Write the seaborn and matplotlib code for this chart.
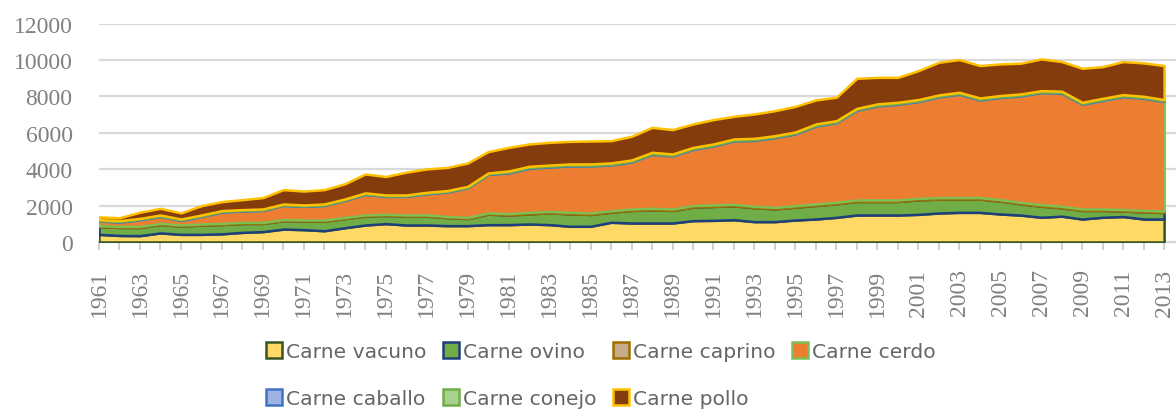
import matplotlib
matplotlib.use("Agg")
import matplotlib.pyplot as plt
import seaborn as sns
import numpy as np
import pandas as pd
from matplotlib.patches import Patch
from matplotlib.ticker import MultipleLocator

years = list(range(1961, 2014))

carne_vacuno = [420, 360, 350, 500, 420, 420, 450, 530, 570, 710,
                680, 620, 785, 935, 1010, 935, 935, 900, 900, 955,
                955, 990, 955, 865, 865, 1085, 1045, 1045, 1045, 1175,
                1190, 1225, 1120, 1120, 1210, 1265, 1355, 1485, 1485, 1485,
                1520, 1595, 1630, 1630, 1540, 1480, 1360, 1420, 1265, 1360,
                1400, 1265, 1265]
carne_ovino = [420, 440, 450, 465, 455, 510, 515, 490, 450, 460,
               470, 530, 505, 490, 450, 490, 490, 440, 390, 580,
               525, 560, 645, 685, 650, 555, 690, 725, 690, 745,
               765, 765, 760, 705, 705, 745, 745, 745, 745, 745,
               800, 765, 730, 730, 710, 620, 610, 460, 470, 375,
               300, 395, 355]
carne_caprino = [60] * 20 + [80] * 33
carne_cerdo = [250, 235, 360, 380, 250, 415, 620, 620, 655, 780,
               745, 800, 935, 1135, 985, 1020, 1165, 1345, 1630, 2120,
               2235, 2420, 2440, 2550, 2585, 2515, 2585, 2970, 2915, 3090,
               3245, 3485, 3630, 3830, 3945, 4290, 4380, 4930, 5170, 5260,
               5320, 5535, 5680, 5370, 5610, 5850, 6160, 6220, 5755, 5975,
               6210, 6160, 6020]
carne_caballo = [30] * 20 + [40] * 33
carne_conejo = [50] * 20 + [70] * 33
carne_pollo = [150, 160, 340, 365, 335, 515, 495, 550, 625, 790,
               765, 790, 835, 1040, 1015, 1255, 1285, 1275, 1285, 1175,
               1295, 1230, 1250, 1240, 1260, 1225, 1300, 1370, 1340, 1290,
               1340, 1245, 1340, 1375, 1410, 1320, 1290, 1650, 1460, 1370,
               1590, 1795, 1800, 1780, 1740, 1690, 1745, 1630, 1870, 1740,
               1820, 1835, 1870]

series_names = ["Carne vacuno", "Carne ovino", "Carne caprino", "Carne cerdo",
                "Carne caballo", "Carne conejo", "Carne pollo"]
series_values = [carne_vacuno, carne_ovino, carne_caprino, carne_cerdo,
                 carne_caballo, carne_conejo, carne_pollo]
y_ticks = [0, 2000, 4000, 6000, 8000, 10000, 12000]

fills = ["#FFD966", "#70AD47", "#C4AC8A", "#ED7D31", "#9DB3E0", "#A9D18E", "#843C0C"]
edges = ["#375623", "#1F3F7A", "#9C6F00", "#7DBE55", "#4472C4", "#70AD47", "#FFC000"]

df = pd.DataFrame({"year": years})
for n, v in zip(series_names, series_values):
    df[n] = v

sns.set_theme(style="white")
plt.rcParams["font.family"] = ["Liberation Serif", "DejaVu Serif"]

fig = plt.figure(figsize=(11.76, 4.10), dpi=100)
ax = fig.add_axes([99 / 1176, 1 - 243 / 410, 1 - 99 / 1176, (243 - 24.7) / 410])

ax.set_axisbelow(True)
ax.yaxis.grid(True, color="#D9D9D9", linewidth=1.6)
polys = ax.stackplot(df["year"], *[df[n] for n in series_names], colors=fills)
for p, ec in zip(polys, edges):
    p.set_edgecolor(ec)
    p.set_linewidth(1.8)
    p.set_joinstyle("round")

ax.set_xlim(1961, 2013.58)
ax.set_ylim(0, 12000)
ax.set_yticks(y_ticks)
ax.set_yticklabels([str(t) for t in y_ticks])
ax.xaxis.set_minor_locator(MultipleLocator(1))
ax.set_xticks([y for y in years if (y - 1961) % 2 == 0])
ax.set_xticklabels([str(y) for y in years if (y - 1961) % 2 == 0], rotation=90)

for s in ["top", "right", "left"]:
    ax.spines[s].set_visible(False)
ax.spines["bottom"].set_color("#D0D0D0")
ax.spines["bottom"].set_linewidth(1.5)
ax.spines["bottom"].set_zorder(0.5)

ax.tick_params(axis="y", length=0, pad=19, labelsize=17, labelcolor="#808080")
ax.tick_params(axis="x", which="both", direction="out", length=6, width=1.2,
               color="#C8C8C8", bottom=True, labelsize=17, labelcolor="#808080", pad=13)
ax.tick_params(axis="x", which="minor", labelbottom=False)

handles = [Patch(facecolor=f, edgecolor=e, linewidth=1.8, label=n)
           for f, e, n in zip(fills, edges, series_names)]
order = [0, 4, 1, 5, 2, 6, 3]
leg = fig.legend([handles[i] for i in order], [series_names[i] for i in order],
                 ncol=4, loc="center", bbox_to_anchor=(601 / 1176, 1 - 376 / 410),
                 frameon=False, handlelength=0.8, handleheight=0.8,
                 handletextpad=0.2, columnspacing=0.8, labelspacing=1.4,
                 prop={"family": ["DejaVu Sans"], "size": 14.6})
for t in leg.get_texts():
    t.set_color("#666666")

fig.savefig("out.png", dpi=100)
